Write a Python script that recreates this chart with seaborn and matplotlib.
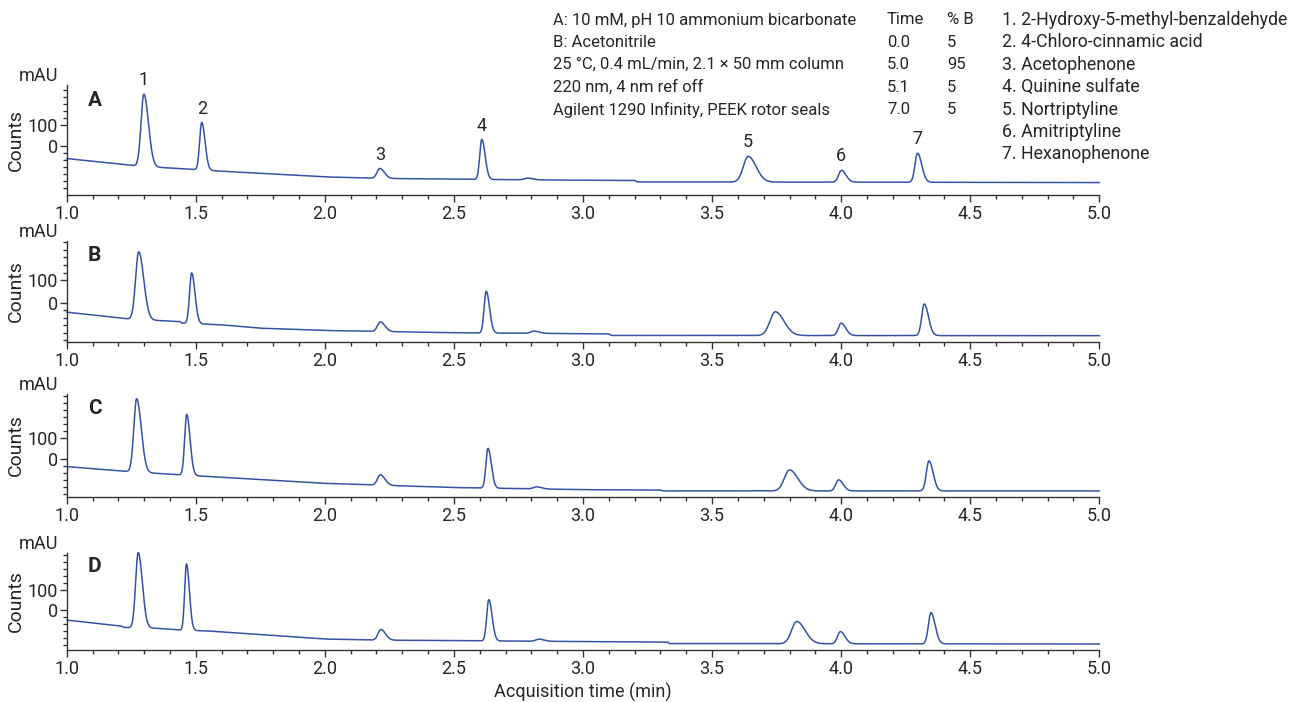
import numpy as np
import pandas as pd
import seaborn as sns
import matplotlib
matplotlib.use("Agg")
import matplotlib.pyplot as plt
from matplotlib import font_manager
from matplotlib.ticker import FixedLocator, MultipleLocator

# Peak tables (retention time min, height mAU, sigma min)
peak_time_A = [1.299, 1.523, 2.213, 2.608, 2.785, 3.640, 4.001, 4.296]
peak_height_A = [343, 226, 47, 190, 8, 122, 56, 138]
peak_width_A = [0.011, 0.008, 0.011, 0.008, 0.012, 0.019, 0.011, 0.010]

peak_time_B = [1.279, 1.484, 2.215, 2.625, 2.810, 3.745, 4.000, 4.322]
peak_height_B = [300, 224, 42, 185, 10, 105, 55, 140]
peak_width_B = [0.012, 0.008, 0.011, 0.008, 0.012, 0.021, 0.011, 0.010]

peak_time_C = [1.271, 1.465, 2.215, 2.632, 2.820, 3.800, 3.990, 4.340]
peak_height_C = [350, 290, 50, 190, 10, 100, 53, 143]
peak_width_C = [0.011, 0.008, 0.011, 0.008, 0.012, 0.020, 0.011, 0.010]

peak_time_D = [1.277, 1.464, 2.217, 2.635, 2.830, 3.828, 3.997, 4.348]
peak_height_D = [365, 322, 52, 200, 10, 108, 59, 151]
peak_width_D = [0.010, 0.007, 0.011, 0.008, 0.012, 0.020, 0.011, 0.010]

# Baseline drift points (time, mAU)
base_time_A = [1.0, 1.28, 1.6, 2.0, 2.2, 2.6, 3.0, 3.20, 3.21, 4.0, 5.02]
base_level_A = [-59, -95, -119, -146, -153, -158, -162, -163, -170, -171, -173]
base_time_B = [1.0, 1.24, 1.44, 1.445, 1.6, 1.75, 2.0, 2.5, 3.1, 3.11, 5.02]
base_level_B = [-42, -72, -84, -90, -98, -113, -123, -133, -138, -145, -146]
base_time_C = [1.0, 1.24, 1.45, 2.0, 2.5, 3.0, 3.30, 3.31, 5.02]
base_level_C = [-35, -59, -75, -115, -135, -145, -147, -151, -151]
base_time_D = [1.0, 1.21, 1.225, 1.35, 1.45, 1.55, 2.0, 2.2, 3.33, 3.335, 5.02]
base_level_D = [-48, -77, -84, -88, -97, -101, -140, -145, -155, -162, -164]

panels = ["A", "B", "C", "D"]
peak_labels = ["1", "2", "3", "4", "", "5", "6", "7"]

conditions = [
    "A: 10 mM, pH 10 ammonium bicarbonate",
    "B: Acetonitrile",
    "25 \u00b0C, 0.4 mL/min, 2.1 \u00d7 50 mm column",
    "220 nm, 4 nm ref off",
    "Agilent 1290 Infinity, PEEK rotor seals",
]
grad_time = ["Time", "0.0", "5.0", "5.1", "7.0"]
grad_b = ["% B", "5", "95", "5", "5"]
compounds = [
    "1. 2-Hydroxy-5-methyl-benzaldehyde",
    "2. 4-Chloro-cinnamic acid",
    "3. Acetophenone",
    "4. Quinine sulfate",
    "5. Nortriptyline",
    "6. Amitriptyline",
    "7. Hexanophenone",
]

peaks = {
    "A": (peak_time_A, peak_height_A, peak_width_A, base_time_A, base_level_A),
    "B": (peak_time_B, peak_height_B, peak_width_B, base_time_B, base_level_B),
    "C": (peak_time_C, peak_height_C, peak_width_C, base_time_C, base_level_C),
    "D": (peak_time_D, peak_height_D, peak_width_D, base_time_D, base_level_D),
}

# layout in pixels (top of y spine, x axis line) and y limits per panel
panel_px = {"A": (85, 195), "B": (241, 342), "C": (394, 497), "D": (553, 650)}
panel_ylim = {"A": (-232, 290), "B": (-174, 273), "C": (-180, 311), "D": (-193, 277)}

sns.set_theme(style="ticks")
names = {f.name for f in font_manager.fontManager.ttflist}
narrow = "Liberation Sans Narrow" if "Liberation Sans Narrow" in names else "Roboto"
plt.rcParams["font.family"] = [narrow, "DejaVu Sans"]

W, H = 1312, 702
fig = plt.figure(figsize=(W / 100, H / 100), dpi=100)
line_color = "#3552a6"
x0_px, x1_px = 66.7, 1099.3

t = np.linspace(1.0, 5.02, 3000)
tail = 1.6


def trace(pt, ph, pw, bt, bl):
    y = np.interp(t, bt, bl)
    for c, h, w in zip(pt, ph, pw):
        s = np.where(t < c, w, w * tail)
        y = y + h * np.exp(-0.5 * ((t - c) / s) ** 2)
    return y


for name in panels:
    top, bot = panel_px[name]
    ax = fig.add_axes([x0_px / W, 1 - bot / H, (x1_px - x0_px) / W, (bot - top) / H])
    pt, ph, pw, bt, bl = peaks[name]
    y = trace(pt, ph, pw, bt, bl)
    df = pd.DataFrame({"time": t, "signal": y})
    sns.lineplot(data=df, x="time", y="signal", ax=ax, color=line_color,
                 linewidth=1.1, estimator=None, sort=False)
    for ln in ax.lines:
        ln.set_clip_on(False)
    ax.set_xlim(1.0, 5.0)
    ax.set_ylim(*panel_ylim[name])
    ax.set_xticks(np.arange(1.0, 5.01, 0.5))
    ax.set_xticklabels([f"{v:.1f}" for v in np.arange(1.0, 5.01, 0.5)])
    ax.xaxis.set_minor_locator(MultipleLocator(0.1))
    ax.set_yticks([0, 100])
    lo, hi = panel_ylim[name]
    minors = [v for v in np.arange(-300, 301, 100 / 3) if lo < v < hi and not (-1 < v < 101)]
    ax.yaxis.set_minor_locator(FixedLocator(minors))
    ax.tick_params(axis="both", which="major", labelsize=13, length=5, width=1,
                   color="#333333", pad=2)
    ax.tick_params(axis="both", which="minor", length=3, width=1, color="#333333")
    ax.tick_params(axis="y", pad=1)
    for sp in ["top", "right"]:
        ax.spines[sp].set_visible(False)
    for sp in ["left", "bottom"]:
        ax.spines[sp].set_color("#333333")
        ax.spines[sp].set_linewidth(1.0)
    ax.set_xlabel("")
    ax.set_ylabel("Counts", fontsize=14, labelpad=2)
    ax.text(0.027, 0.86, name, transform=ax.transAxes, fontsize=15,
            fontweight="bold", ha="center", va="center")
    fig.text(38 / W, 1 - (top - 9) / H, "mAU", fontsize=13, ha="center", va="center")

    if name == "A":
        for c, lab in zip(pt, peak_labels):
            if lab:
                apex = np.interp(c, t, y)
                ax.annotate(lab, (c, apex), xytext=(0, 10), textcoords="offset points",
                            ha="center", va="center", fontsize=13)
    if name == "D":
        ax.set_xlabel("Acquisition time (min)", fontsize=13, labelpad=4)

# method text block
row_y = [20 + 22.4 * i for i in range(7)]
for i, s in enumerate(conditions):
    fig.text(553 / W, 1 - row_y[i] / H, s, fontsize=12, va="center", ha="left")
for i, (a, b) in enumerate(zip(grad_time, grad_b)):
    fig.text(887 / W, 1 - row_y[i] / H, a, fontsize=12, va="center", ha="left")
    fig.text(947 / W, 1 - row_y[i] / H, b, fontsize=12, va="center", ha="left")
for i, s in enumerate(compounds):
    fig.text(1002 / W, 1 - row_y[i] / H, s, fontsize=12.8, va="center", ha="left")

fig.savefig("out.png", dpi=100)
